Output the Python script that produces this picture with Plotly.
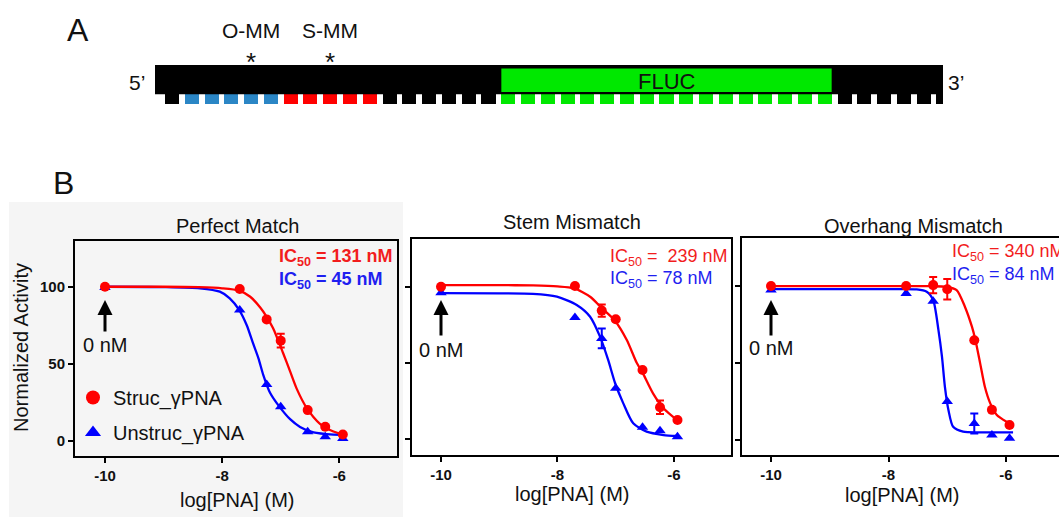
import plotly.graph_objects as go

W, H = 1059, 517
FONT = "Liberation Sans, Arial, Helvetica, sans-serif"
RED = "#ff0000"
BLUE = "#0000ff"
RED_T = "#f21d1d"
BLUE_T = "#1f1ff0"

# ---------------- Panel A data ----------------
seg_colors = ["#000000", "#2b86c5", "#ff0000", "#000000", "#00e800", "#000000"]
seg_counts = [1, 5, 5, 6, 17, 6]
green_segment = 4
mm_labels = ["O-MM", "S-MM"]
mm_index = [4, 8]

# ---------------- Panel B data ----------------
x_conc = [-10, -7.7, -7.24, -7.0, -6.54, -6.24, -5.94]
x_tick_vals = [-10, -8, -6]
x_tick_text = ["-10", "-8", "-6"]
y_tick_vals = [0, 50, 100]
y_tick_text = ["0", "50", "100"]

titles = ["Perfect Match", "Stem Mismatch", "Overhang Mismatch"]
series_names = ["Struc_γPNA", "Unstruc_γPNA"]
ic50_struc = ["131", "\u00a0239", "340"]
ic50_unstruc = ["45", "78", "84"]

# Perfect match
pm_struc_y = [100, 98.5, 78.8, 65, 19.9, 9.1, 4.1]
pm_struc_err = [None, None, None, 4.5, None, None, None]
pm_unstruc_y = [99.5, 84.9, 36.6, 22.1, 5.8, 2.6, 1.5]
pm_unstruc_err = [None] * 7
pm_struc_cx = [-10, -9.0, -8.4, -8.0, -7.71, -7.52, -7.35, -7.24, -7.13, -6.96, -6.84, -6.73, -6.56, -6.33, -6.10, -5.93]
pm_struc_cy = [100, 100, 99.7, 99.0, 97.5, 93.5, 86.5, 80.5, 73, 57, 45, 34, 21.5, 11, 6, 4.2]
pm_unstruc_cx = [-10, -9.0, -8.38, -8.04, -7.87, -7.71, -7.58, -7.47, -7.38, -7.30, -7.18, -7.02, -6.84, -6.67, -6.44, -6.10, -5.93]
pm_unstruc_cy = [100, 99.8, 99, 96.8, 92.5, 85, 75, 63, 53.5, 43, 31, 22, 14, 9, 5.4, 4.0, 3.9]

# Stem mismatch
sm_struc_y = [100, 100.4, 84.3, 78.6, 45.3, 20.8, 12.5]
sm_struc_err = [None, None, 4.0, None, None, 4.4, None]
sm_unstruc_y = [96, 79.7, 66, 33.3, 7.7, 5.5, 1.5]
sm_unstruc_err = [None, None, 6.5, None, None, None, None]
sm_struc_cx = [-10, -9.0, -8.42, -8.0, -7.72, -7.44, -7.24, -7.02, -6.81, -6.64, -6.54, -6.36, -6.18, -5.95]
sm_struc_cy = [101, 101, 100.8, 100.2, 99, 93.4, 86, 78, 65, 50, 43.6, 30, 20.2, 12.5]
sm_unstruc_cx = [-10, -9.0, -8.42, -8.01, -7.67, -7.44, -7.27, -7.13, -7.01, -6.87, -6.70, -6.47, -6.18, -5.95]
sm_unstruc_cy = [95.7, 95.6, 95.3, 93.4, 88, 80.3, 67.2, 51.9, 36.6, 23.4, 10.3, 4.8, 2.6, 2.0]

# Overhang mismatch
om_struc_y = [100, 100, 100.6, 97.9, 64.8, 19.6, 9.8]
om_struc_err = [None, None, 5.2, 6.7, None, None, None]
om_unstruc_y = [97.5, 95.2, 90.2, 25, 10.8, 3.3, 1.1]
om_unstruc_err = [None, None, None, None, 6.5, None, None]
om_struc_cx = [-10, -8.0, -7.3, -7.01, -6.84, -6.70, -6.58, -6.52, -6.44, -6.36, -6.27, -6.16, -5.99, -5.90]
om_struc_cy = [100, 100, 99.9, 99.5, 97.4, 86.6, 73.6, 64.8, 49.8, 34.6, 24, 16.5, 11.9, 10.2]
om_unstruc_cx = [-10, -8.0, -7.52, -7.35, -7.24, -7.15, -7.09, -7.04, -6.98, -6.90, -6.73, -6.4, -5.88]
om_unstruc_cy = [98, 98, 97.8, 96.3, 90.9, 71.4, 54.1, 34.6, 19.5, 8.6, 5.4, 5.0, 5.0]

panels = [
    dict(sy=pm_struc_y, se=pm_struc_err, uy=pm_unstruc_y, ue=pm_unstruc_err,
         scx=pm_struc_cx, scy=pm_struc_cy, ucx=pm_unstruc_cx, ucy=pm_unstruc_cy),
    dict(sy=sm_struc_y, se=sm_struc_err, uy=sm_unstruc_y, ue=sm_unstruc_err,
         scx=sm_struc_cx, scy=sm_struc_cy, ucx=sm_unstruc_cx, ucy=sm_unstruc_cy),
    dict(sy=om_struc_y, se=om_struc_err, uy=om_unstruc_y, ue=om_unstruc_err,
         scx=om_struc_cx, scy=om_struc_cy, ucx=om_unstruc_cx, ucy=om_unstruc_cy),
]

# ---------------- layout geometry (pixels) ----------------
def fx(p):
    return p / W


def fy(p):
    return 1 - p / H


frames = [(75, 397, 241, 456), (411.7, 731, 239.3, 455), (741.7, 1059, 238.3, 455)]
x_ranges = [(-10.512, -5.015), (-10.503, -5.021), (-10.499, -5.098)]
y_ranges = [(-9.9, 129.7), (-10.5, 131.1), (-9.7, 131.0)]

fig = go.Figure()

# ---------------- Panel B traces ----------------
for k, p in enumerate(panels):
    xa = "x" if k == 0 else "x%d" % (k + 1)
    ya = "y" if k == 0 else "y%d" % (k + 1)
    for cx, cy, yv, ev, col, sym in [
        (p["ucx"], p["ucy"], p["uy"], p["ue"], BLUE, "triangle-up"),
        (p["scx"], p["scy"], p["sy"], p["se"], RED, "circle"),
    ]:
        fig.add_trace(go.Scatter(
            x=cx, y=cy, mode="lines", xaxis=xa, yaxis=ya,
            line=dict(color=col, width=2.3, shape="spline", smoothing=0.7),
            showlegend=False, hoverinfo="skip"))
        ex = [x for x, e in zip(x_conc, ev) if e is not None]
        ey = [y for y, e in zip(yv, ev) if e is not None]
        ee = [e for e in ev if e is not None]
        if ex:
            fig.add_trace(go.Scatter(
                x=ex, y=ey, mode="markers", xaxis=xa, yaxis=ya,
                marker=dict(size=2, opacity=0, color=col),
                error_y=dict(type="data", array=ee, color=col, thickness=2, width=4),
                showlegend=False, hoverinfo="skip"))
        fig.add_trace(go.Scatter(
            x=x_conc, y=yv, mode="markers", xaxis=xa, yaxis=ya,
            marker=dict(symbol=sym, size=10, color=col, line=dict(width=0)),
            showlegend=False, hoverinfo="skip"))

# legend-only entries
for name, col, sym, grp in [(series_names[0], RED, "circle", "s"),
                            (series_names[1], BLUE, "triangle-up", "u")]:
    fig.add_trace(go.Scatter(
        x=[None], y=[None], mode="markers", name=name, legendgroup=grp,
        marker=dict(symbol=sym, size=14, color=col), showlegend=True))

# ---------------- Panel A (schematic) ----------------
A_X0 = 172.0    # pixel of square index 0
A_PITCH = 19.78  # pixels per square
A_RIGHT = 943.0
sq_idx, sq_col = [], []
i = 0
green_start = None
for s, (c, n) in enumerate(zip(seg_colors, seg_counts)):
    if s == green_segment:
        green_start = i
    for _ in range(n):
        sq_idx.append(i)
        sq_col.append(c)
        i += 1

fig.add_trace(go.Bar(
    x=sq_idx, y=[9.5] * len(sq_idx), base=94, width=0.71,
    marker=dict(color=sq_col, line=dict(width=0)),
    xaxis="x4", yaxis="y4", showlegend=False, hoverinfo="skip"))

shapes = [
    # light panel background of first graph
    dict(type="rect", xref="paper", yref="paper", x0=fx(9), x1=fx(403), y0=fy(517), y1=fy(202),
         fillcolor="#f5f5f5", line=dict(width=0), layer="below"),
    # black strand
    dict(type="rect", xref="x4", yref="y4", x0=(155 - A_X0) / A_PITCH, x1=(A_RIGHT - A_X0) / A_PITCH,
         y0=65, y1=94.3, fillcolor="#000000", line=dict(width=0)),
    # FLUC box
    dict(type="rect", xref="x4", yref="y4", x0=green_start - 0.35,
         x1=green_start + seg_counts[green_segment] - 1 + 0.35,
         y0=68.5, y1=92, fillcolor="#00e800", line=dict(width=0)),
]

annotations = []


def ann(text, x, y, size, color="#111111", xanchor="center", yanchor="middle", angle=0):
    annotations.append(dict(
        text=text, x=fx(x), y=fy(y), xref="paper", yref="paper",
        xanchor=xanchor, yanchor=yanchor, showarrow=False,
        textangle=angle, font=dict(family=FONT, size=size, color=color)))


ann("A", 78, 30, 32)
ann("B", 63, 183, 32)
ann("5’", 137, 82, 21)
ann("3’", 956, 82, 21)
annotations.append(dict(text="FLUC", x=green_start + (seg_counts[green_segment] - 1) / 2, y=81,
                        xref="x4", yref="y4", showarrow=False,
                        font=dict(family=FONT, size=22, color="#111111")))
for lab, ix in zip(mm_labels, mm_index):
    annotations.append(dict(text=lab, x=ix, y=30, xref="x4", yref="y4", showarrow=False,
                            font=dict(family=FONT, size=21, color="#111111")))
    annotations.append(dict(text="*", x=ix, y=62, xref="x4", yref="y4", showarrow=False,
                            font=dict(family=FONT, size=26, color="#111111")))

# panel titles
ann(titles[0], 237, 226, 20)
ann(titles[1], 572, 222, 20)
ann(titles[2], 913, 226, 20)
# x-axis titles
ann("log[PNA] (M)", 237, 500, 20)
ann("log[PNA] (M)", 572, 494, 20)
ann("log[PNA] (M)", 902, 495, 20)
# y-axis title
ann("Normalized Activity", 21, 348, 20, angle=-90)

# IC50 labels
ic_pos = [((277, 257), (277, 280)), ((608, 257), (608, 279)), ((950, 252), (950, 275))]
for k in range(3):
    (rx, ry), (bx, by) = ic_pos[k]
    t1 = "IC<sub>50</sub> = %s nM" % ic50_struc[k]
    t2 = "IC<sub>50</sub> = %s nM" % ic50_unstruc[k]
    if k == 0:
        t1 = "<b>" + t1 + "</b>"
        t2 = "<b>" + t2 + "</b>"
    ann(t1, rx, ry, 18, RED_T, xanchor="left")
    ann(t2, bx, by, 18, BLUE_T, xanchor="left")

# 0 nM arrows and labels
arrow_pos = [(105, 300, 33, 345), (441, 300, 37, 350), (771, 300, 37, 348)]
for (ax_, tip, length, ty) in arrow_pos:
    annotations.append(dict(x=fx(ax_), y=fy(tip), xref="paper", yref="paper", text="",
                            showarrow=True, ax=0, ay=length, arrowhead=2, arrowsize=1,
                            arrowwidth=3, arrowcolor="#000000"))
    ann("0 nM", ax_, ty, 20)

layout = dict(
    width=W, height=H,
    margin=dict(l=0, r=0, t=0, b=0, autoexpand=False),
    paper_bgcolor="#ffffff", plot_bgcolor="rgba(0,0,0,0)",
    font=dict(family=FONT, color="#111111"),
    shapes=shapes, annotations=annotations,
    showlegend=True,
    legend=dict(x=fx(73), y=fy(378), xanchor="left", yanchor="top",
                bgcolor="rgba(0,0,0,0)", font=dict(family=FONT, size=20, color="#111111"),
                traceorder="grouped", tracegroupgap=6, itemsizing="trace"),
    bargap=0,
)

for k in range(3):
    l, r, t, b = frames[k]
    xkey = "xaxis" if k == 0 else "xaxis%d" % (k + 1)
    ykey = "yaxis" if k == 0 else "yaxis%d" % (k + 1)
    yref_name = "y" if k == 0 else "y%d" % (k + 1)
    xref_name = "x" if k == 0 else "x%d" % (k + 1)
    layout[xkey] = dict(
        domain=[fx(l), fx(r)], range=list(x_ranges[k]), anchor=yref_name,
        showline=True, linewidth=2, linecolor="#000000", mirror=True,
        ticks="outside", ticklen=5, tickwidth=2, tickcolor="#000000",
        tickvals=x_tick_vals, ticktext=x_tick_text,
        tickfont=dict(family=FONT, size=15, color="#111111", weight="bold"),
        showgrid=False, zeroline=False, fixedrange=True)
    layout[ykey] = dict(
        domain=[fy(b), fy(t)], range=list(y_ranges[k]), anchor=xref_name,
        showline=True, linewidth=2, linecolor="#000000", mirror=(k < 2),
        ticks="outside", ticklen=5, tickwidth=2, tickcolor="#000000",
        tickvals=y_tick_vals, ticktext=y_tick_text, showticklabels=(k == 0),
        tickfont=dict(family=FONT, size=15, color="#111111", weight="bold"),
        showgrid=False, zeroline=False, fixedrange=True)

layout["xaxis4"] = dict(domain=[0, A_RIGHT / W], range=[-A_X0 / A_PITCH, (A_RIGHT - A_X0) / A_PITCH],
                        anchor="y4", visible=False, fixedrange=True)
layout["yaxis4"] = dict(domain=[fy(130), 1], range=[130, 0], anchor="x4", visible=False, fixedrange=True)

fig.update_layout(**layout)
fig.write_html("out.html", config={"displayModeBar": False},
               post_script="document.body.style.margin='0';document.body.style.overflow='hidden';")
